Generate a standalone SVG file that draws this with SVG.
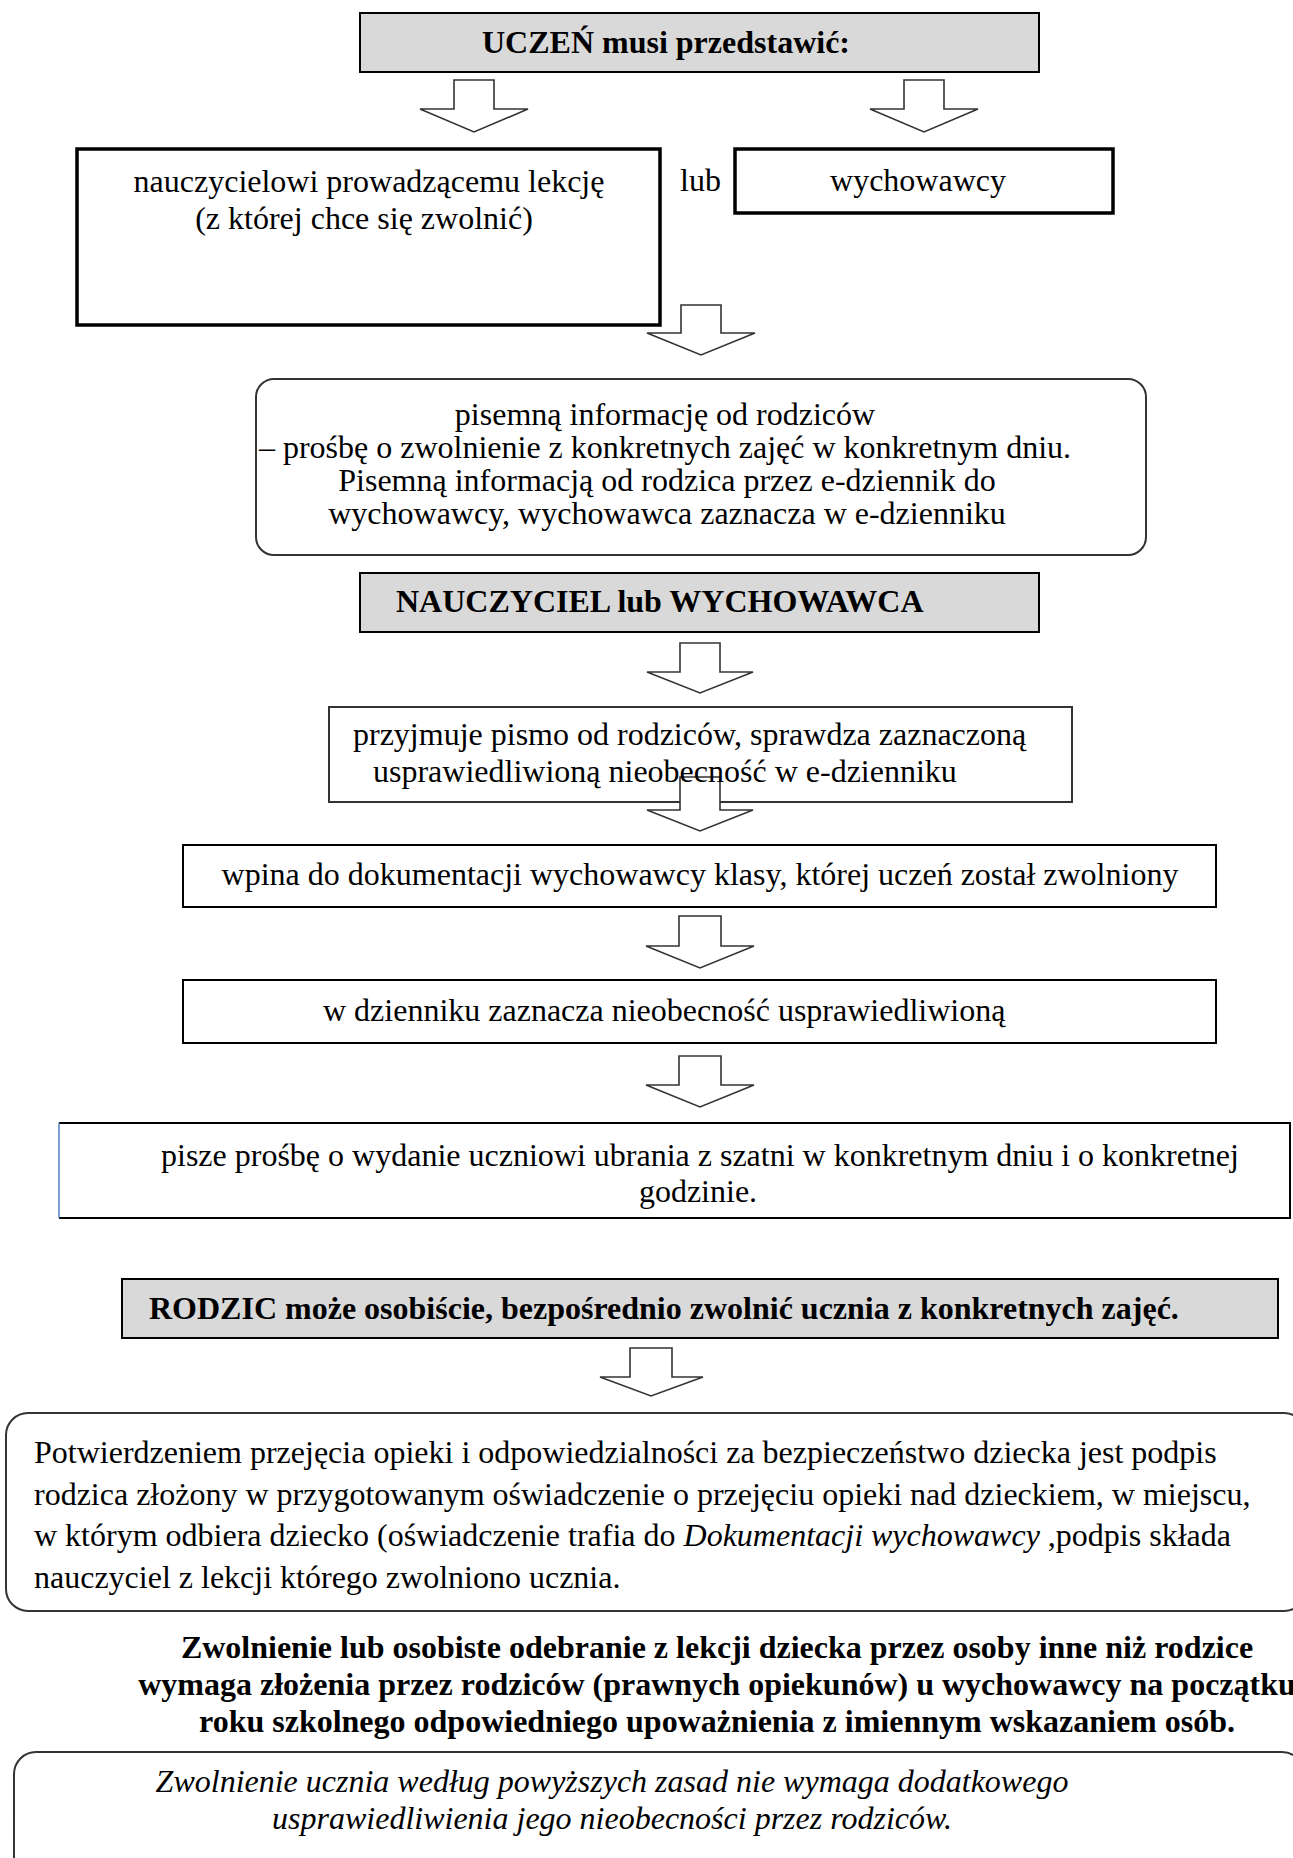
<svg xmlns="http://www.w3.org/2000/svg" width="1293" height="1858" viewBox="0 0 1293 1858">
<style>
text{font-family:"Liberation Serif","Times New Roman",serif;font-size:32px;fill:#000}
.b{font-weight:bold}
.i{font-style:italic}
.m{text-anchor:middle}
.gray{fill:#d9d9d9;stroke:#000;stroke-width:2}
.box{fill:#fff;stroke:#000;stroke-width:2}
.thick{fill:#fff;stroke:#000;stroke-width:3.5}
.round{fill:#fff;stroke:#333;stroke-width:2}
.arrow{fill:#fff;stroke:#333;stroke-width:1.6;stroke-linejoin:miter}
</style>
<rect width="1293" height="1858" fill="#fff"/>

<g id="n-uczen">
<rect class="gray" x="360" y="13" width="679" height="59"/>
<text class="b" x="482" y="53">UCZEŃ musi przedstawić:</text>
</g>

<g id="n-nauczyciel-prowadzacy">
<rect class="thick" x="77" y="149" width="583" height="176"/>
<text class="m" x="369" y="192">nauczycielowi prowadzącemu lekcję</text>
<text class="m" x="364" y="229">(z której chce się zwolnić)</text>
</g>

<g id="lbl-lub">
<text x="680" y="191">lub</text>
</g>

<g id="n-wychowawcy">
<rect class="thick" x="735" y="149" width="378" height="64"/>
<text class="m" x="918" y="191">wychowawcy</text>
</g>

<g id="n-pisemna">
<rect class="round" x="256" y="379" width="890" height="176" rx="18" ry="18"/>
<text class="m" x="665" y="425">pisemną informację od rodziców</text>
<text class="m" x="665" y="458">– prośbę o zwolnienie z konkretnych zajęć w konkretnym dniu.</text>
<text class="m" x="667" y="491">Pisemną informacją od rodzica przez e-dziennik do</text>
<text class="m" x="667" y="524">wychowawcy, wychowawca zaznacza w e-dzienniku</text>
</g>

<g id="n-nauczyciel-wychowawca">
<rect class="gray" x="360" y="573" width="679" height="59"/>
<text class="b" x="396" y="612">NAUCZYCIEL lub WYCHOWAWCA</text>
</g>

<g id="n-wpina">
<rect class="box" x="183" y="845" width="1033" height="62"/>
<text class="m" x="700" y="885">wpina do dokumentacji wychowawcy klasy, której uczeń został zwolniony</text>
</g>

<g id="n-dziennik">
<rect class="box" x="183" y="980" width="1033" height="63"/>
<text x="323" y="1021">w dzienniku zaznacza nieobecność usprawiedliwioną</text>
</g>

<g id="n-pisze">
<path d="M59 1123 H1290 V1218 H59" fill="#fff" stroke="#000" stroke-width="2"/>
<line x1="59" y1="1123" x2="59" y2="1218" stroke="#4f81bd" stroke-width="1.5"/>
<text x="161" y="1166">pisze prośbę o wydanie uczniowi ubrania z szatni w konkretnym dniu i o konkretnej</text>
<text class="m" x="698" y="1202">godzinie.</text>
</g>

<g id="n-rodzic">
<rect class="gray" x="122" y="1279" width="1156" height="59"/>
<text class="b" x="149" y="1319">RODZIC może osobiście, bezpośrednio zwolnić ucznia z konkretnych zajęć.</text>
</g>

<g id="n-potwierdzenie">
<rect class="round" x="6" y="1413" width="1300" height="198" rx="22" ry="22"/>
<text x="34" y="1463">Potwierdzeniem przejęcia opieki i odpowiedzialności za bezpieczeństwo dziecka jest podpis</text>
<text x="34" y="1505">rodzica złożony w przygotowanym oświadczenie o przejęciu opieki nad dzieckiem, w miejscu,</text>
<text x="34" y="1546">w którym odbiera dziecko (oświadczenie trafia do <tspan class="i">Dokumentacji wychowawcy</tspan> ,podpis składa</text>
<text x="34" y="1588">nauczyciel z lekcji którego zwolniono ucznia.</text>
</g>

<g id="n-zwolnienie-inne-osoby">
<text class="b m" x="717" y="1658">Zwolnienie lub osobiste odebranie z lekcji dziecka przez osoby inne niż rodzice</text>
<text class="b m" x="717" y="1695">wymaga złożenia przez rodziców (prawnych opiekunów) u wychowawcy na początku</text>
<text class="b m" x="717" y="1732">roku szkolnego odpowiedniego upoważnienia z imiennym wskazaniem osób.</text>
</g>

<g id="n-uwaga">
<rect class="round" x="14" y="1752" width="1290" height="140" rx="22" ry="22"/>
<text class="i m" x="612" y="1792">Zwolnienie ucznia według powyższych zasad nie wymaga dodatkowego</text>
<text class="i m" x="612" y="1829">usprawiedliwienia jego nieobecności przez rodziców.</text>
</g>

<g id="connectors">
<polygon class="arrow" points="454,80 494,80 494,109 528,109 474,132 420,109 454,109"/>
<polygon class="arrow" points="904,80 944,80 944,109 978,109 924,132 870,109 904,109"/>
<polygon class="arrow" points="681,305 721,305 721,333 755,333 701,355 647,333 681,333"/>
<polygon class="arrow" points="680,643 720,643 720,672 753,672 700,693 647,672 680,672"/>
<polygon class="arrow" points="679,916 721,916 721,946 754,946 700,968 646,946 679,946"/>
<polygon class="arrow" points="679,1056 721,1056 721,1085 754,1085 700,1107 646,1085 679,1085"/>
<polygon class="arrow" points="630,1348 672,1348 672,1377 703,1377 651,1396 600,1377 630,1377"/>
</g>

<g id="n-przyjmuje">
<polygon class="arrow" points="680,777 720,777 720,810 753,810 700,831 647,810 680,810"/>
<path d="M680 802 H329 V707 H1072 V802 H720" fill="none" stroke="#333" stroke-width="2"/>
<text x="353" y="745">przyjmuje pismo od rodziców, sprawdza zaznaczoną</text>
<text x="373" y="782">usprawiedliwioną nieobecność w e-dzienniku</text>
</g>
</svg>
